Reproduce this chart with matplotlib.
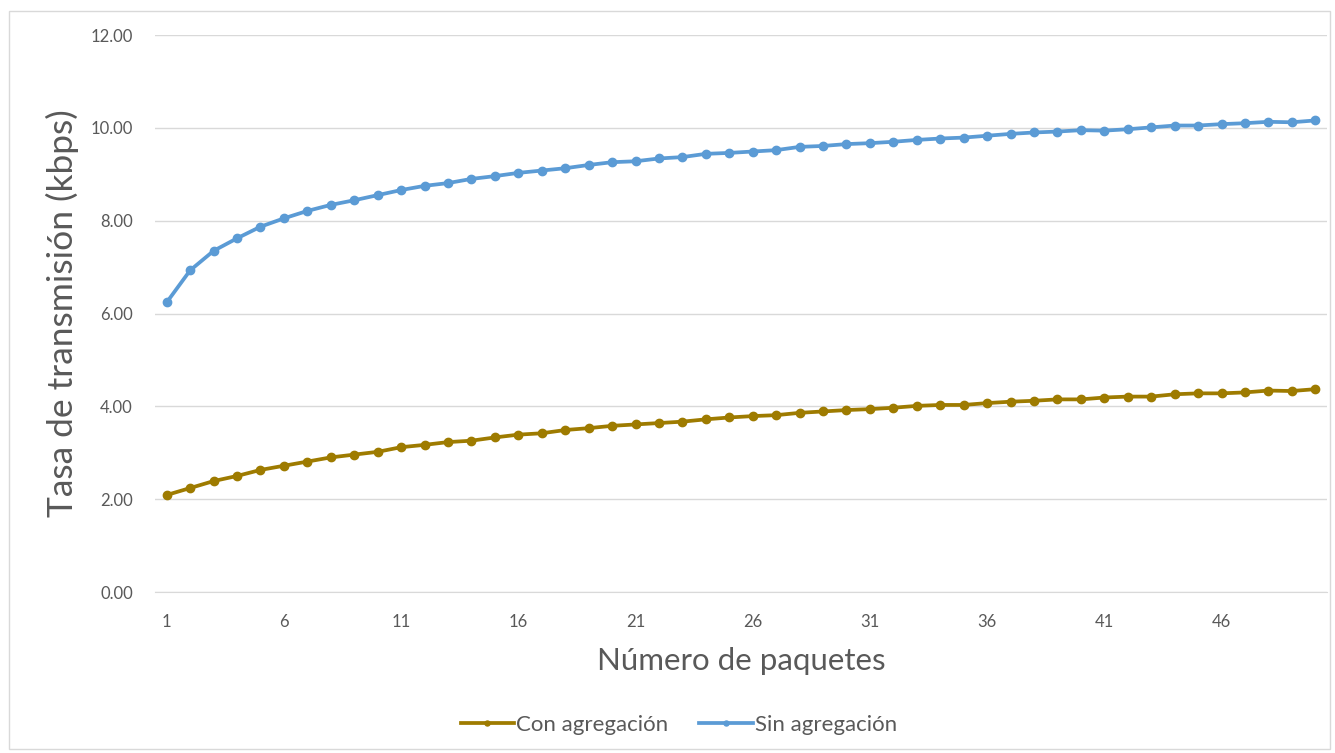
import numpy as np
import matplotlib.pyplot as plt
from matplotlib.patches import Rectangle

plt.rcParams['font.family'] = ['Lato', 'DejaVu Sans']

paquetes = np.arange(1, 51)

con_agregacion = [
    2.09, 2.24, 2.39, 2.50, 2.63, 2.72, 2.81, 2.90, 2.96, 3.02,
    3.12, 3.17, 3.23, 3.26, 3.33, 3.39, 3.42, 3.49, 3.53, 3.58,
    3.61, 3.64, 3.67, 3.72, 3.76, 3.79, 3.81, 3.86, 3.89, 3.92,
    3.94, 3.97, 4.01, 4.03, 4.03, 4.07, 4.10, 4.12, 4.15, 4.15,
    4.19, 4.21, 4.21, 4.26, 4.28, 4.28, 4.30, 4.34, 4.33, 4.37,
]

sin_agregacion = [
    6.24, 6.93, 7.35, 7.62, 7.87, 8.05, 8.21, 8.34, 8.44, 8.55,
    8.66, 8.75, 8.81, 8.90, 8.96, 9.03, 9.08, 9.13, 9.20, 9.26,
    9.28, 9.34, 9.37, 9.44, 9.46, 9.49, 9.52, 9.59, 9.61, 9.65,
    9.67, 9.70, 9.74, 9.77, 9.79, 9.83, 9.87, 9.90, 9.92, 9.95,
    9.94, 9.97, 10.01, 10.05, 10.05, 10.08, 10.10, 10.13, 10.12, 10.16,
]

xticks = [1, 6, 11, 16, 21, 26, 31, 36, 41, 46]
yticks = [0, 2, 4, 6, 8, 10, 12]

gris = '#595959'

fig = plt.figure(figsize=(13.35, 7.53), dpi=100)
ax = fig.add_axes([0.1161, 0.2138, 0.8779, 0.7397])

ax.plot(paquetes, con_agregacion, color='#9E7B00', lw=2.7, marker='o', ms=6,
        label='Con agregación', zorder=3)
ax.plot(paquetes, sin_agregacion, color='#5B9BD5', lw=2.7, marker='o', ms=6,
        label='Sin agregación', zorder=3)

ax.set_xlim(0.5, 50.5)
ax.set_ylim(0, 12)
ax.set_xticks(xticks)
ax.set_yticks(yticks)
ax.set_yticklabels([f'{v:.2f}' for v in yticks])
ax.tick_params(length=0, colors=gris, labelsize=12)
ax.tick_params(axis='y', pad=16)
ax.tick_params(axis='x', pad=16)

ax.grid(axis='y', color='#d9d9d9', lw=1)
ax.set_axisbelow(True)
for s in ['top', 'right', 'left']:
    ax.spines[s].set_visible(False)
ax.spines['bottom'].set_color('#d9d9d9')

ax.set_ylabel('Tasa de transmisión (kbps)', fontsize=25.5, color=gris, labelpad=8)
ax.set_xlabel('Número de paquetes', fontsize=22.5, color=gris, labelpad=12)

ax.legend(loc='upper center', bbox_to_anchor=(0.447, -0.185), ncol=2, frameon=False,
          fontsize=16, labelcolor=gris, handlelength=2.4, handletextpad=0.1,
          columnspacing=1.4, markerscale=0.6)

fig.patches.append(Rectangle((0.007, 0.005), 0.989, 0.98, transform=fig.transFigure,
                             fill=False, edgecolor='#d9d9d9', lw=1))

fig.savefig('out.png', dpi=100, facecolor='white')
